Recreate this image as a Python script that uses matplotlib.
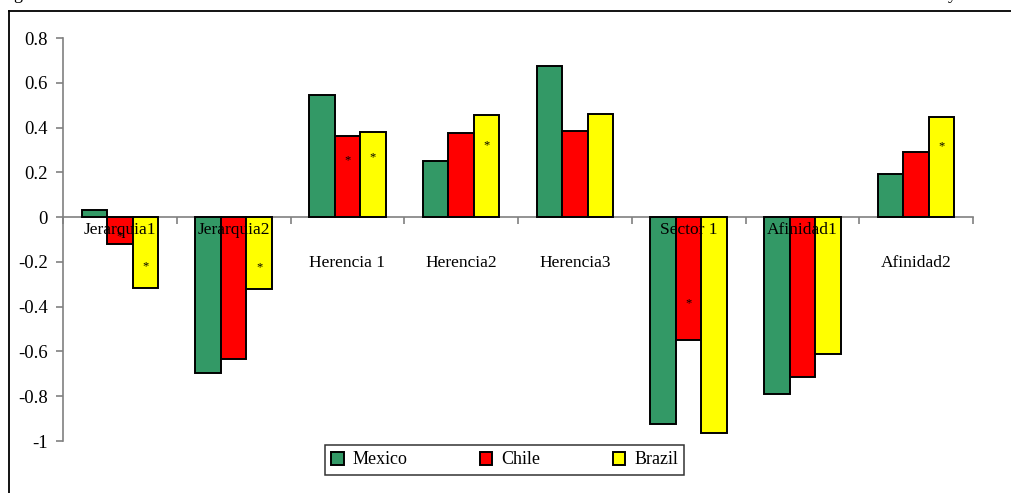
import numpy as np
import matplotlib
matplotlib.use('Agg')
import matplotlib.pyplot as plt
from matplotlib.lines import Line2D
from matplotlib.ticker import FuncFormatter

categories = ['Jerarquia1', 'Jerarquia2', 'Herencia 1', 'Herencia2', 'Herencia3',
              'Sector 1', 'Afinidad1', 'Afinidad2']
countries = ['Mexico', 'Chile', 'Brazil']

mexico = [0.03, -0.695, 0.545, 0.25, 0.675, -0.923, -0.79, 0.193]
chile = [-0.12, -0.633, 0.362, 0.376, 0.385, -0.548, -0.713, 0.291]
brazil = [-0.315, -0.322, 0.382, 0.456, 0.46, -0.963, -0.61, 0.449]

# significance marks (True -> '*' drawn inside the bar)
mexico_sig = [False, False, False, False, False, False, False, False]
chile_sig = [True, False, True, False, False, True, False, False]
brazil_sig = [True, True, True, True, False, False, False, True]

colors = ['#339966', '#ff0000', '#ffff00']
series = [mexico, chile, brazil]
sig = [mexico_sig, chile_sig, brazil_sig]

plt.rcParams['font.family'] = 'Liberation Serif'


def ytick_fmt(v, _):
    v = round(v, 1) + 0.0
    return ('%g' % v).replace('\u2212', '-')


fig = plt.figure(figsize=(10.11, 4.93), dpi=100)
ax = fig.add_axes([63 / 1011, 1 - 441 / 493, 910 / 1011, 403 / 493])

x = np.arange(len(categories)) + 0.5
width = 0.224
for i, (vals, col, name) in enumerate(zip(series, colors, countries)):
    pos = x + (i - 1) * width
    ax.bar(pos, vals, width=width, color=col, edgecolor='black', linewidth=1.4,
           label=name, zorder=3)
    for p, v, s in zip(pos, vals, sig[i]):
        if s:
            ax.text(p, v * 0.7, '*', ha='center', va='center', fontsize=9, zorder=6)

ax.set_xlim(0, len(categories))
ax.set_ylim(-1, 0.8)
ax.set_yticks(np.arange(-1, 0.81, 0.2))
ax.yaxis.set_major_formatter(FuncFormatter(ytick_fmt))
ax.set_xticks(np.arange(0, len(categories) + 1))
ax.tick_params(axis='x', labelbottom=False, direction='out', length=5, color='#808080', width=1.2)
ax.tick_params(axis='y', direction='out', length=5, color='#808080', width=1.2, labelsize=13.5, pad=6)

for side in ['top', 'right']:
    ax.spines[side].set_visible(False)
ax.spines['bottom'].set_position(('data', 0))
ax.spines['left'].set_bounds(-1, 0.8)
for side in ['bottom', 'left']:
    ax.spines[side].set_color('#808080')
    ax.spines[side].set_linewidth(1.2)

# category labels: right under the axis for groups that go down, lower otherwise
for xi, cat, vals in zip(x, categories, zip(*series)):
    if min(vals) < -0.1:
        ax.text(xi, -0.02, cat, ha='center', va='top', fontsize=12.5, zorder=5)
    else:
        ax.text(xi, -0.17, cat, ha='center', va='top', fontsize=12.5, zorder=5)

ax.legend(loc='center', bbox_to_anchor=(504.5 / 1011, 1 - 460 / 493),
          bbox_transform=fig.transFigure, ncol=3, frameon=True, fancybox=False,
          edgecolor='black', fontsize=13, handlelength=0.7, handleheight=0.7,
          columnspacing=4.0, handletextpad=0.5, borderpad=0.35, borderaxespad=0)
ax.get_legend().get_frame().set_linewidth(1.1)

# outer frame, left and top edges only
fig.add_artist(Line2D([9 / 1011, 9 / 1011], [0, 1 - 11 / 493], color='black', lw=1.3))
fig.add_artist(Line2D([9 / 1011, 1], [1 - 11 / 493, 1 - 11 / 493], color='black', lw=1.3))
fig.text(13 / 1011, 1 + 1 / 493, 'g', fontsize=13, va='baseline')
fig.text(948 / 1011, 1 + 1 / 493, 'y', fontsize=13, va='baseline')

fig.savefig('out.png', dpi=100)
